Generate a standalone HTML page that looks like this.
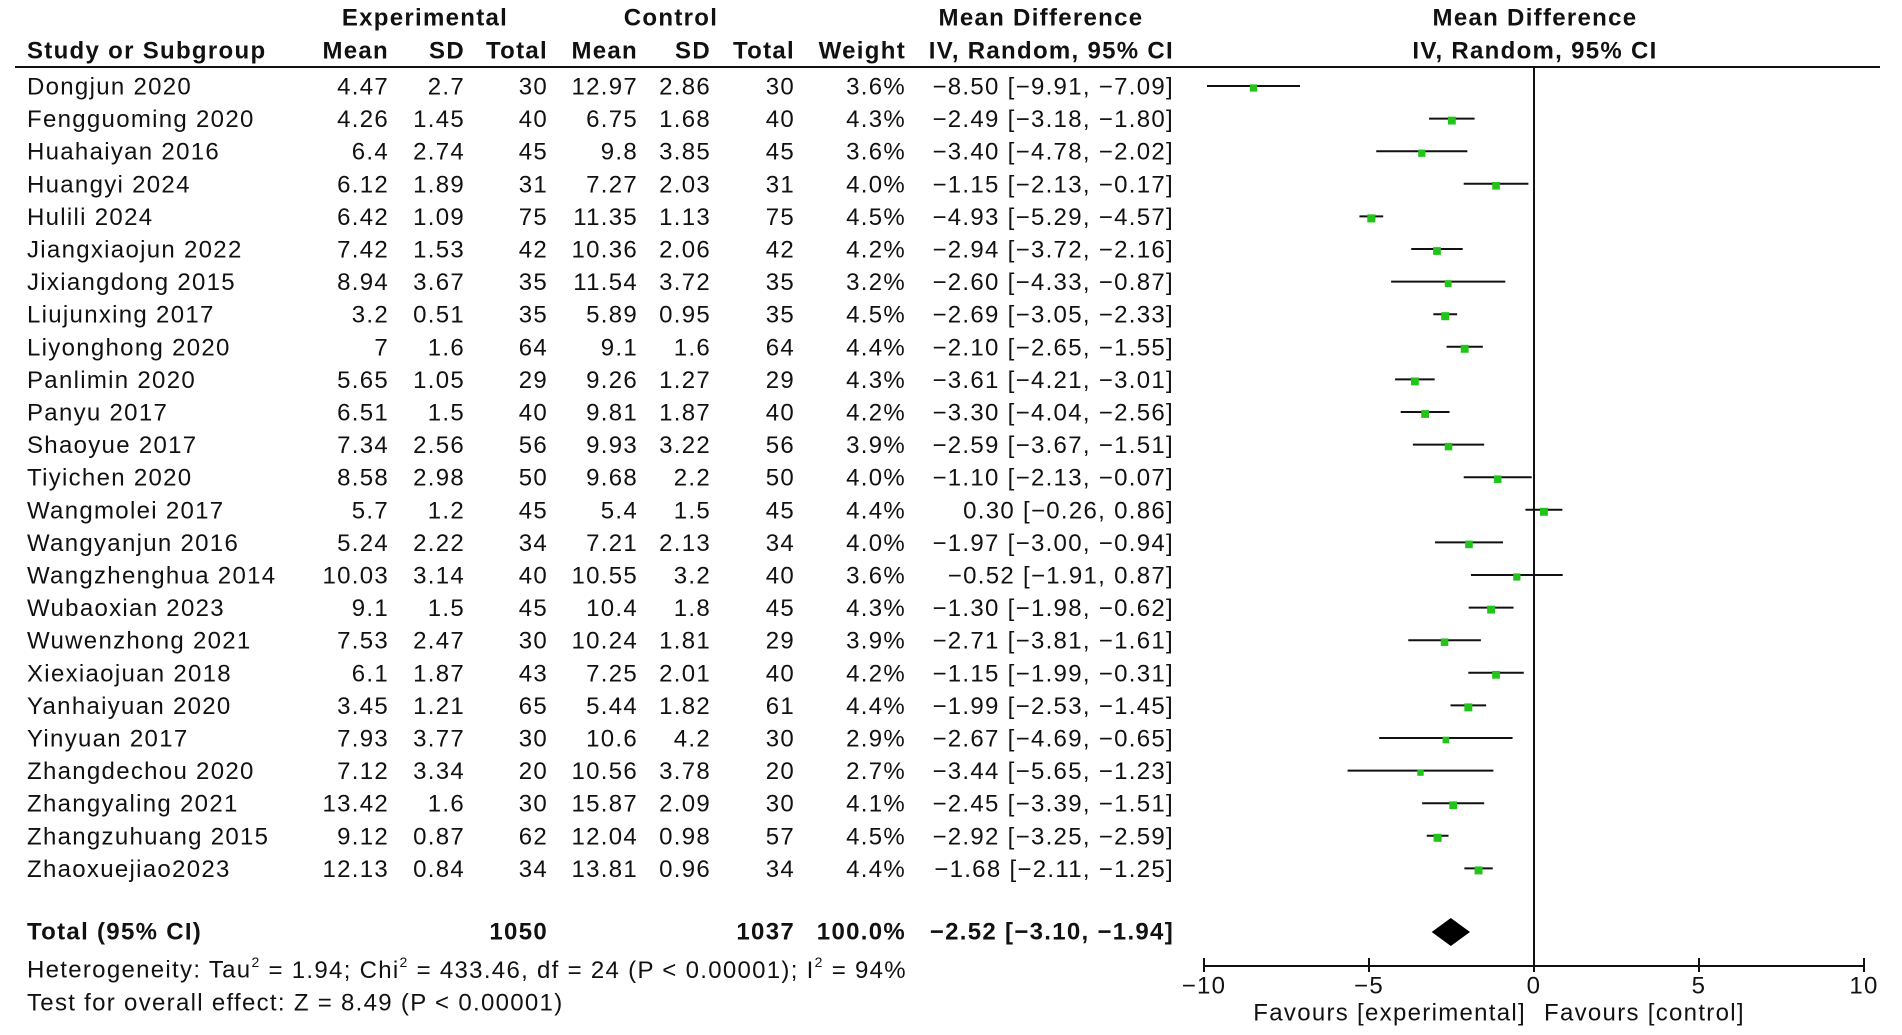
<!DOCTYPE html>
<html><head><meta charset="utf-8"><style>
html,body{margin:0;padding:0;background:#fff;}
svg{display:block;font-family:"Liberation Sans","DejaVu Sans",sans-serif;}
</style></head><body>
<svg id="plot" width="1902" height="1035" viewBox="0 0 1902 1035"></svg>
<script>
const studies=["Dongjun 2020","Fengguoming 2020","Huahaiyan 2016","Huangyi 2024","Hulili 2024","Jiangxiaojun 2022","Jixiangdong 2015","Liujunxing 2017","Liyonghong 2020","Panlimin 2020","Panyu 2017","Shaoyue 2017","Tiyichen 2020","Wangmolei 2017","Wangyanjun 2016","Wangzhenghua 2014","Wubaoxian 2023","Wuwenzhong 2021","Xiexiaojuan 2018","Yanhaiyuan 2020","Yinyuan 2017","Zhangdechou 2020","Zhangyaling 2021","Zhangzuhuang 2015","Zhaoxuejiao2023"];
const expMean=["4.47","4.26","6.4","6.12","6.42","7.42","8.94","3.2","7","5.65","6.51","7.34","8.58","5.7","5.24","10.03","9.1","7.53","6.1","3.45","7.93","7.12","13.42","9.12","12.13"];
const expSD=["2.7","1.45","2.74","1.89","1.09","1.53","3.67","0.51","1.6","1.05","1.5","2.56","2.98","1.2","2.22","3.14","1.5","2.47","1.87","1.21","3.77","3.34","1.6","0.87","0.84"];
const expN=[30,40,45,31,75,42,35,35,64,29,40,56,50,45,34,40,45,30,43,65,30,20,30,62,34];
const ctlMean=["12.97","6.75","9.8","7.27","11.35","10.36","11.54","5.89","9.1","9.26","9.81","9.93","9.68","5.4","7.21","10.55","10.4","10.24","7.25","5.44","10.6","10.56","15.87","12.04","13.81"];
const ctlSD=["2.86","1.68","3.85","2.03","1.13","2.06","3.72","0.95","1.6","1.27","1.87","3.22","2.2","1.5","2.13","3.2","1.8","1.81","2.01","1.82","4.2","3.78","2.09","0.98","0.96"];
const ctlN=[30,40,45,31,75,42,35,35,64,29,40,56,50,45,34,40,45,29,40,61,30,20,30,57,34];
const weights=[3.6,4.3,3.6,4.0,4.5,4.2,3.2,4.5,4.4,4.3,4.2,3.9,4.0,4.4,4.0,3.6,4.3,3.9,4.2,4.4,2.9,2.7,4.1,4.5,4.4];
const md=[-8.50,-2.49,-3.40,-1.15,-4.93,-2.94,-2.60,-2.69,-2.10,-3.61,-3.30,-2.59,-1.10,0.30,-1.97,-0.52,-1.30,-2.71,-1.15,-1.99,-2.67,-3.44,-2.45,-2.92,-1.68];
const lo=[-9.91,-3.18,-4.78,-2.13,-5.29,-3.72,-4.33,-3.05,-2.65,-4.21,-4.04,-3.67,-2.13,-0.26,-3.00,-1.91,-1.98,-3.81,-1.99,-2.53,-4.69,-5.65,-3.39,-3.25,-2.11];
const hi=[-7.09,-1.80,-2.02,-0.17,-4.57,-2.16,-0.87,-2.33,-1.55,-3.01,-2.56,-1.51,-0.07,0.86,-0.94,0.87,-0.62,-1.61,-0.31,-1.45,-0.65,-1.23,-1.51,-2.59,-1.25];
const total=[-2.52,-3.10,-1.94];
const xTicks=[-10,-5,0,5,10];

const svg=document.getElementById('plot');
const NS='http://www.w3.org/2000/svg';
function el(tag,attrs,txt){const e=document.createElementNS(NS,tag);for(const k in attrs)e.setAttribute(k,attrs[k]);if(txt!==undefined)e.textContent=txt;svg.appendChild(e);return e;}
const X0=1534,PX=33;
function xs(v){return X0+v*PX;}
function ys(i){return 87+i*32.6;}
function fm(v){return (v<0?'\u2212':'')+Math.abs(v).toFixed(2);}
const FS=24;
function txt(x,y,s,anchor,bold,name){const t=el('text',{x:x,y:y,'font-size':FS,'letter-spacing':'1.3','text-anchor':anchor||'start','font-weight':bold?'bold':'normal',fill:'#111','dominant-baseline':'central'},s);

return t;}

txt(425,18,'Experimental','middle',true,'header-experimental');
txt(671,18,'Control','middle',true,'header-control');
txt(1041,18,'Mean Difference','middle',true,'header-mean-difference');
txt(1535,18,'Mean Difference','middle',true,'header-plot-mean-difference');
txt(27,51,'Study or Subgroup','start',true,'header-study');
txt(389,51,'Mean','end',true,'header-exp-mean');
txt(465,51,'SD','end',true,'header-exp-sd');
txt(548,51,'Total','end',true,'header-exp-total');
txt(638,51,'Mean','end',true,'header-ctl-mean');
txt(711,51,'SD','end',true,'header-ctl-sd');
txt(795,51,'Total','end',true,'header-ctl-total');
txt(906,51,'Weight','end',true,'header-weight');
txt(1174,51,'IV, Random, 95% CI','end',true,'header-ci');
txt(1535,51,'IV, Random, 95% CI','middle',true,'header-plot-ci');
const hl=el('line',{x1:15,x2:1880,y1:67,y2:67,stroke:'#111','stroke-width':2});



const zl=el('line',{x1:xs(0),x2:xs(0),y1:67,y2:966,stroke:'#111','stroke-width':2});



for(let i=0;i<studies.length;i++){
  const y=ys(i);
  txt(27,y,studies[i],'start',false,'study-name');
  txt(389,y,expMean[i],'end',false,'exp-mean');
  txt(465,y,expSD[i],'end',false,'exp-sd');
  txt(548,y,String(expN[i]),'end',false,'exp-total');
  txt(638,y,ctlMean[i],'end',false,'ctl-mean');
  txt(711,y,ctlSD[i],'end',false,'ctl-sd');
  txt(795,y,String(ctlN[i]),'end',false,'ctl-total');
  txt(906,y,weights[i].toFixed(1)+'%','end',false,'weight');
  txt(1174,y,fm(md[i])+' ['+fm(lo[i])+', '+fm(hi[i])+']','end',false,'ci-text');
  const l=el('line',{x1:xs(lo[i]),x2:xs(hi[i]),y1:y-1,y2:y-1,stroke:'#111','stroke-width':2});
  
  
  const s=4+weights[i]*0.9;
  const r=el('rect',{x:xs(md[i])-s/2,y:y-s/2+1,width:s,height:s,fill:'#22c41a'});
  
  
}
const ty=932;
txt(27,ty,'Total (95% CI)','start',true,'total-label');
txt(548,ty,'1050','end',true,'total-exp');
txt(795,ty,'1037','end',true,'total-ctl');
txt(906,ty,'100.0%','end',true,'total-weight');
txt(1174,ty,fm(total[0])+' ['+fm(total[1])+', '+fm(total[2])+']','end',true,'total-ci');
const dm=el('polygon',{points:[xs(total[1])+','+ty,xs(total[0])+','+(ty-14),xs(total[2])+','+ty,xs(total[0])+','+(ty+14)].join(' '),fill:'#000'});


const het=el('text',{x:27,y:970,'font-size':FS,'letter-spacing':'1.3',fill:'#111','dominant-baseline':'central'});


het.innerHTML='Heterogeneity: Tau<tspan dy="-8" font-size="14">2</tspan><tspan dy="8"> = 1.94; Chi</tspan><tspan dy="-8" font-size="14">2</tspan><tspan dy="8"> = 433.46, df = 24 (P &lt; 0.00001); I</tspan><tspan dy="-8" font-size="14">2</tspan><tspan dy="8"> = 94%</tspan>';
txt(27,1003,'Test for overall effect: Z = 8.49 (P < 0.00001)','start',false,'overall-effect-text');

const ax=el('line',{x1:xs(-10),x2:xs(10),y1:966,y2:966,stroke:'#111','stroke-width':2});


xTicks.forEach(t=>{
  const tk=el('line',{x1:xs(t),x2:xs(t),y1:958,y2:972,stroke:'#111','stroke-width':2});
  
  
  txt(xs(t),986,(t<0?'\u2212':'')+Math.abs(t),'middle',false,'x-tick-label');
});
txt(xs(0)-8,1013,'Favours [experimental]','end',false,'favours-experimental');
txt(xs(0)+10,1013,'Favours [control]','start',false,'favours-control');
</script>
</body></html>
